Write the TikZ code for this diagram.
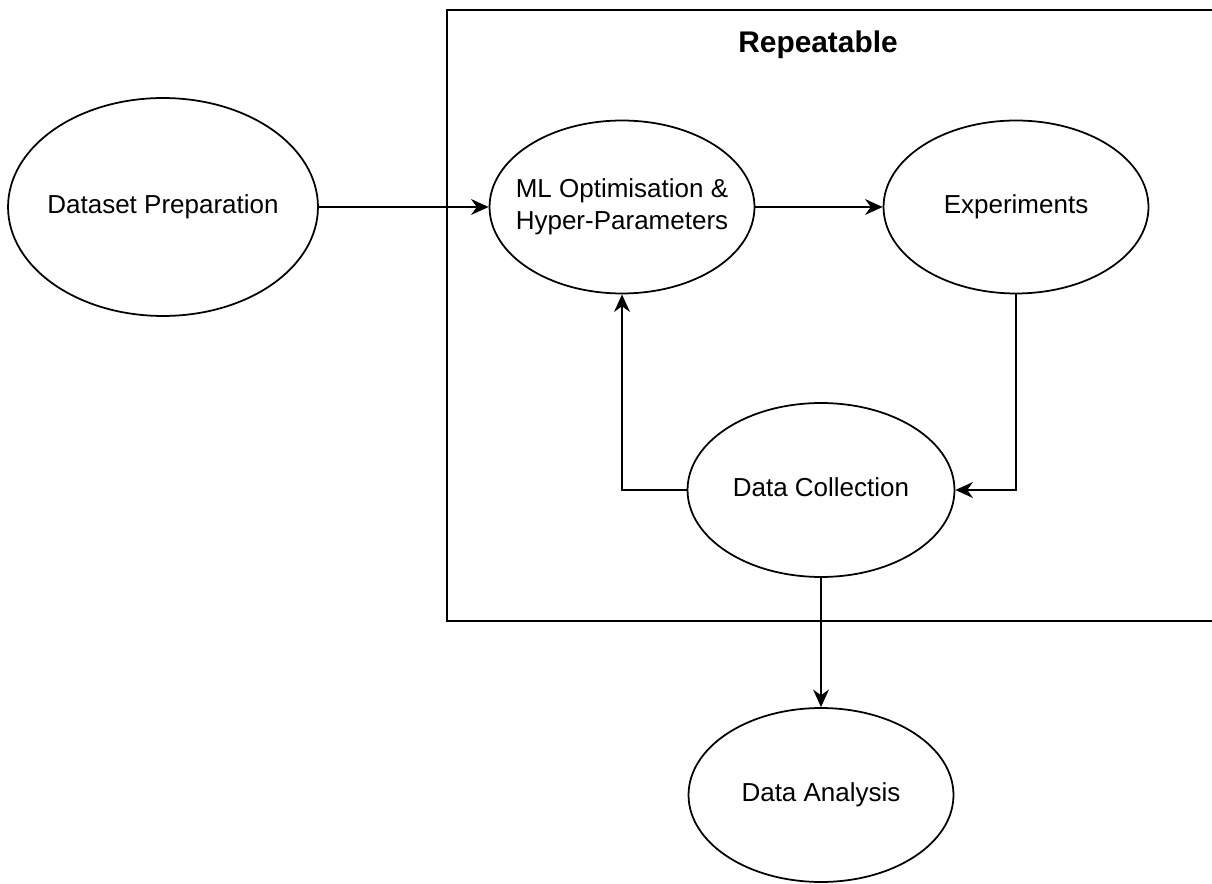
\documentclass[tikz,border=0pt]{standalone}
\usepackage{fontspec}
\setmainfont{Liberation Sans}
\usepackage{tikz}
\usetikzlibrary{shapes.geometric, arrows.meta, positioning}
\definecolor{mydark}{RGB}{0,0,0}
\newcommand{\stagetext}[1]{\makebox[0pt]{\begin{tabular}{@{}c@{}}#1\end{tabular}}}
\tikzset{
  stage/.style={ellipse, draw=mydark, fill=white, line width=1pt,
    inner sep=0pt, font=\fontsize{14.8}{18}\selectfont},
  arrow/.style={-{Stealth[length=10pt, width=9pt]}, line width=1.1pt, color=mydark},
  frame/.style={draw=mydark, line width=1.1pt}
}

\begin{document}
\begin{tikzpicture}[x=0.02cm, y=-0.02cm]
    \useasboundingbox (0,0) rectangle (1212,884);
    \clip (0,0) rectangle (1212,884);

    % Repeatable frame
    \draw[frame] (447,10) rectangle (1240,621);
    \node[font=\bfseries\fontsize{17}{20}\selectfont] (title) at (818,45) {Repeatable};

    % Stages
    \node[stage, minimum width=6.2cm, minimum height=4.36cm] (prep) at (163,207) {\stagetext{Dataset Preparation}};
    \node[stage, minimum width=5.3cm, minimum height=3.46cm] (optim) at (622,207) {\stagetext{ML Optimisation \&\\Hyper-Parameters}};
    \node[stage, minimum width=5.3cm, minimum height=3.46cm] (exper) at (1016,207) {\stagetext{Experiments}};
    \node[stage, minimum width=5.34cm, minimum height=3.48cm] (collect) at (821,490) {\stagetext{Data Collection}};
    \node[stage, minimum width=5.3cm, minimum height=3.48cm] (analysis) at (821,795) {\stagetext{Data Analysis}};

    % Flow
    \draw[arrow] (prep) -- (optim);
    \draw[arrow] (optim) -- (exper);
    \draw[arrow] (exper.south) |- (collect.east);
    \draw[arrow] (collect.west) -| (optim.south);
    \draw[arrow] (collect.south) -- (analysis.north);
\end{tikzpicture}
\end{document}
